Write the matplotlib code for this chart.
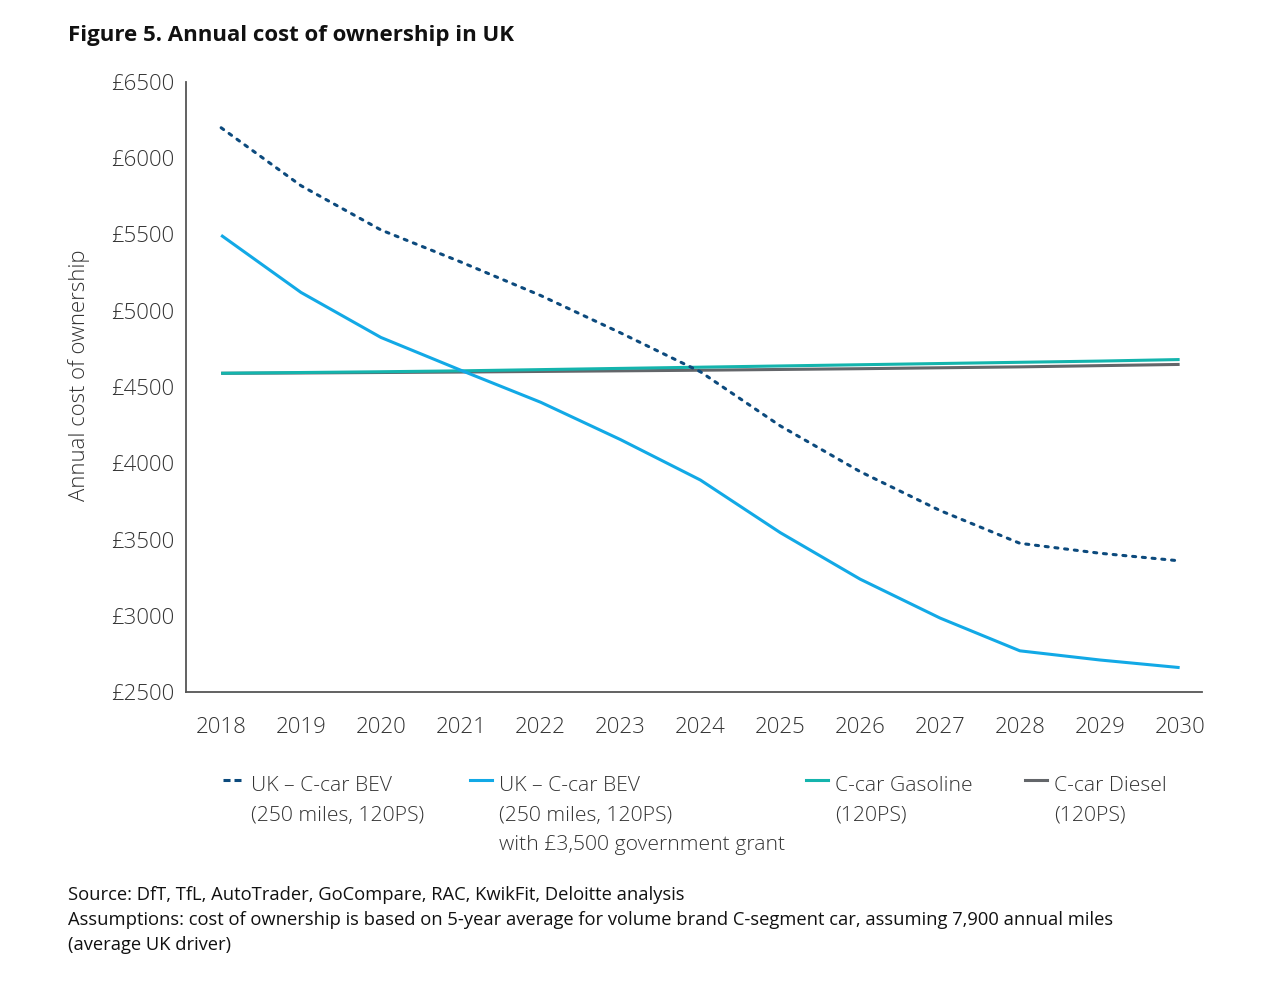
import matplotlib
matplotlib.use('Agg')
import matplotlib.pyplot as plt
from matplotlib.lines import Line2D

plt.rcParams['font.family'] = ['Open Sans', 'DejaVu Sans']

years = [2018, 2019, 2020, 2021, 2022, 2023, 2024, 2025, 2026, 2027, 2028, 2029, 2030]
bev = [6200, 5820, 5530, 5320, 5100, 4855, 4600, 4245, 3945, 3690, 3475, 3410, 3360]
bev_grant = [5495, 5120, 4825, 4610, 4400, 4155, 3890, 3545, 3240, 2985, 2770, 2710, 2660]
gasoline = [4590, 4595, 4600, 4606, 4614, 4622, 4630, 4638, 4646, 4654, 4662, 4670, 4680]
diesel = [4590, 4592, 4595, 4598, 4602, 4606, 4610, 4615, 4620, 4626, 4632, 4640, 4648]
yticks = [2500, 3000, 3500, 4000, 4500, 5000, 5500, 6000, 6500]

labels = [['UK – C-car BEV', '(250 miles, 120PS)'],
          ['UK – C-car BEV', '(250 miles, 120PS)', 'with £3,500 government grant'],
          ['C-car Gasoline', '(120PS)'],
          ['C-car Diesel', '(120PS)']]

c_bev = '#0c4a7d'
c_grant = '#12a9e6'
c_gas = '#14b4ad'
c_diesel = '#63666a'
txt = '#333333'
W, H = 1274, 1006

fig = plt.figure(figsize=(12.74, 10.06), dpi=100)
ax = fig.add_axes([186 / W, 1 - 692 / H, (1202 - 186) / W, (692 - 82) / H])

ax.plot(years, diesel, color=c_diesel, lw=2.2, solid_capstyle='butt')
ax.plot(years, gasoline, color=c_gas, lw=2.2, solid_capstyle='butt')
ax.plot(years, bev_grant, color=c_grant, lw=2.2, solid_capstyle='butt')
ax.plot(years, bev, color=c_bev, lw=2.2, dashes=(1.0, 2.2), dash_capstyle='round')

ax.set_xlim(2017.56, 2030.28)
ax.set_ylim(2500, 6500)
ax.set_xticks(years)
ax.set_yticks(yticks)
ax.set_yticklabels(['£%d' % v for v in yticks])
ax.tick_params(length=0, labelsize=16, colors=txt)
ax.tick_params(axis='y', pad=8.5)
ax.tick_params(axis='x', pad=18)
for t in ax.get_xticklabels() + ax.get_yticklabels():
    t.set_fontweight('light')
for s in ['top', 'right']:
    ax.spines[s].set_visible(False)
for s in ['left', 'bottom']:
    ax.spines[s].set_color('#555555')
    ax.spines[s].set_linewidth(1.3)
ax.set_ylabel('Annual cost of ownership', fontsize=15.9, color=txt, fontweight='light')
ax.yaxis.set_label_coords(-0.094, 0.52)

# legend drawn by hand so the key sits on the first line
handles = [dict(color=c_bev, dashes=(2.3, 1.3), dash_capstyle='butt'),
           dict(color=c_grant), dict(color=c_gas), dict(color=c_diesel)]
hx = [222, 470, 806, 1025]
for style, lines, x0 in zip(handles, labels, hx):
    if 'dashes' in style:
        x_a, x_b = x0 + 1, x0 + 19
    else:
        x_a, x_b = x0, x0 + 22
    fig.add_artist(Line2D([x_a / W, x_b / W], [1 - 780 / H, 1 - 780 / H], lw=2.2,
                          transform=fig.transFigure, **style))
    for i, line in enumerate(lines):
        fig.text((x0 + 29) / W, 1 - (791 + 29.5 * i) / H, line, fontsize=15.2,
                 color=txt, va='baseline', ha='left', fontweight='light')

fig.text(68 / W, 1 - 36 / H, 'Figure 5. Annual cost of ownership in UK', fontsize=16,
         fontweight='bold', color='#111111', va='center', ha='left')
fig.text(68 / W, 1 - 886 / H,
         'Source: DfT, TfL, AutoTrader, GoCompare, RAC, KwikFit, Deloitte analysis\n'
         'Assumptions: cost of ownership is based on 5-year average for volume brand C-segment car, assuming 7,900 annual miles\n'
         '(average UK driver)',
         fontsize=13.2, color='#111111', va='top', ha='left', linespacing=1.5)

fig.savefig('out.png', dpi=100)
